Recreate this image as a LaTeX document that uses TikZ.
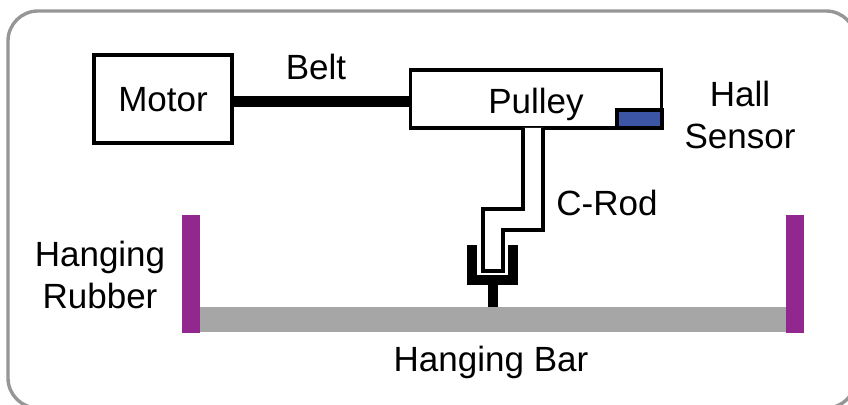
\documentclass[tikz,border=0pt]{standalone}
\usepackage{fontspec}
\setmainfont{Liberation Sans}
\definecolor{rubber}{RGB}{146,39,143}
\definecolor{barGray}{RGB}{166,166,166}
\definecolor{frameGray}{RGB}{150,150,150}
\definecolor{sensorBlue}{RGB}{60,85,165}
\tikzset{
  part/.style={draw=black,line width=2.6pt,inner sep=0pt,outer sep=0pt},
  caption/.style={font=\fontsize{24.9}{30.5}\selectfont,align=center,inner sep=0pt},
  rubberbar/.style={fill=rubber,draw=none}
}
\begin{document}
\begin{tikzpicture}[x=0.025cm,y=-0.025cm]
\useasboundingbox (0,0) rectangle (848,405);
\draw[frameGray,line width=2.4pt,rounded corners=0.75cm] (8,11) rectangle (856,408);
% bar and rubbers
\fill[barGray] (190,307) rectangle (796,332);
\fill[rubberbar] (182,215) rectangle (200,333);
\fill[rubberbar] (786,215) rectangle (804,333);
% holder
\fill[black] (467,245) rectangle (477,285);
\fill[black] (508,245) rectangle (518,285);
\fill[black] (467,275) rectangle (518,285);
\fill[black] (488,285) rectangle (498,307);
% boxes
\node[part,minimum width=97.8pt,minimum height=62.4pt] (motor) at (163,99) {};
\node[part,minimum width=178.6pt,minimum height=41.1pt] (pulley) at (536,99) {};
\node[part,fill=sensorBlue,minimum width=31.9pt,minimum height=12.8pt] (sensor) at (639.5,119) {};
\draw[line width=7.5pt] ([yshift=-1.8pt]motor.east) -- ([yshift=-1.8pt]pulley.west);
% rod
\draw[line width=2.5pt,fill=white] (523,128) -- (523,209) -- (483,209) -- (483,271) -- (503,271) -- (503,230) -- (543,230) -- (543,128);
% labels
\node[caption] (motorlabel) at (163,100) {Motor};
\node[caption] (beltlabel) at (316,67) {Belt};
\node[caption] (pulleylabel) at (536,104) {Pulley};
\node[caption] (halllabel) at (740,115) {Hall\\Sensor};
\node[caption] (rodlabel) at (607,203) {C-Rod};
\node[caption] (rubberlabel) at (100,275) {Hanging\\Rubber};
\node[caption] (barlabel) at (491,362) {Hanging Bar};
\end{tikzpicture}
\end{document}
